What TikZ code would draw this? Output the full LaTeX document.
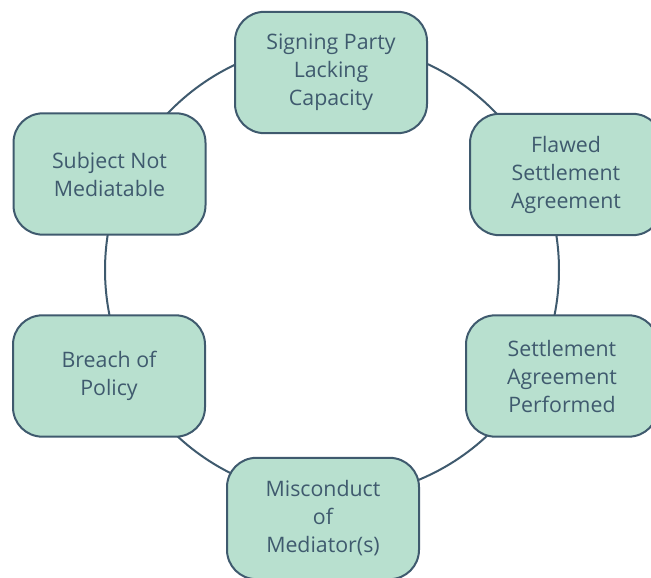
\documentclass[tikz,border=0pt]{standalone}
\usepackage{fontspec}
\setsansfont{Open Sans}
\usepackage{tikz}
\definecolor{mint}{HTML}{B8E0CF}
\definecolor{slate}{HTML}{3F5A6E}

\begin{document}
\begin{tikzpicture}[x=0.75pt,y=-0.75pt,font=\sffamily\fontsize{16}{21}\selectfont,
  stage/.style={draw=slate,fill=mint,line width=1.5pt,rounded corners=22pt,
    minimum width=144pt,minimum height=91pt,align=center,text=slate}]
  \useasboundingbox (0,0) rectangle (651,578);
  \clip (0,0) rectangle (651,578);
  % ring behind the stages
  \coordinate (hub) at (332,270);
  \draw[slate,line width=1.5pt] (hub) circle (170.25pt);
  % stages
  \node[stage] (capacity) at (331,72.5) {Signing Party\\Lacking\\Capacity};
  \node[stage] (flawed) at (566,174.5) {Flawed\\Settlement\\Agreement};
  \node[stage] (performed) at (562,376) {Settlement\\Agreement\\Performed};
  \node[stage] (misconduct) at (323,518.5) {Misconduct\\of\\Mediator(s)};
  \node[stage] (policy) at (109,376) {Breach of\\Policy};
  \node[stage] (subject) at (109.5,174) {Subject Not\\Mediatable};
\end{tikzpicture}
\end{document}
